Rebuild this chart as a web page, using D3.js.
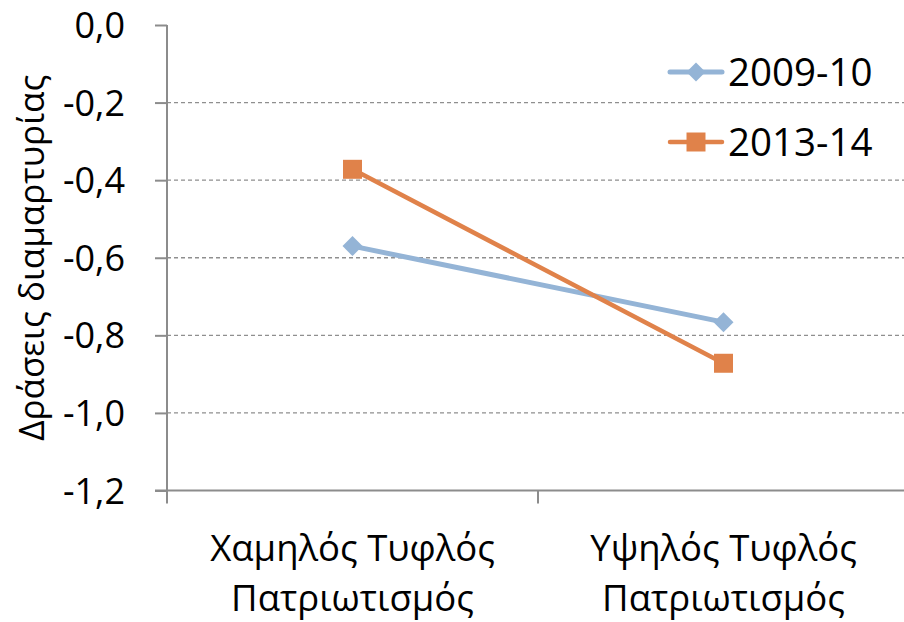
<!DOCTYPE html>
<html>
<head>
<meta charset="utf-8">
<script src="https://cdn.jsdelivr.net/npm/d3@7"></script>
<style>
  html, body { margin: 0; padding: 0; background: #fff; }
  svg { display: block; font-family: "Open Sans", "Noto Sans", sans-serif; }
</style>
</head>
<body>
<svg id="chart" width="904" height="622"></svg>
<script>
const categories = [["Χαμηλός Τυφλός", "Πατριωτισμός"], ["Υψηλός Τυφλός", "Πατριωτισμός"]];
const seriesNames = ["2009-10", "2013-14"];
const values2009 = [-0.57, -0.766];
const values2013 = [-0.372, -0.872];
const yTicks = [0, -0.2, -0.4, -0.6, -0.8, -1.0, -1.2];
const yTitle = "Δράσεις διαμαρτυρίας";
const colors = ["#94B4D6", "#E0824A"];
const markers = ["diamond", "square"];

const series = [
  { name: seriesNames[0], values: values2009, color: colors[0], marker: markers[0], width: 5 },
  { name: seriesNames[1], values: values2013, color: colors[1], marker: markers[1], width: 4.5 }
];

const svg = d3.select("#chart");
const pL = 167, pR = 909, pT = 25, pB = 490.5;

const x = d3.scaleBand().domain(d3.range(categories.length)).range([pL, pR]);
const y = d3.scaleLinear().domain([-1.2, 0]).range([pB, pT]);
const fmt = v => d3.format(".1f")(v).replace(".", ",").replace("−", "-");

// gridlines
svg.append("g").selectAll("line").data(yTicks.filter(v => v !== 0 && v !== -1.2)).join("line")
  .attr("x1", pL).attr("x2", pR)
  .attr("y1", d => y(d)).attr("y2", d => y(d))
  .attr("stroke", "#8f8f8f").attr("stroke-width", 1.3).attr("stroke-dasharray", "4,3");

// y axis
const yAxis = svg.append("g").attr("transform", `translate(${pL},0)`)
  .call(d3.axisLeft(y).tickValues(yTicks).tickSize(12).tickPadding(30).tickFormat(fmt));
yAxis.select(".domain").attr("stroke", "#8c8c8c").attr("stroke-width", 2).attr("d", `M0,${pT}V${pB}`);
yAxis.selectAll(".tick line").attr("stroke", "#8c8c8c").attr("stroke-width", 2);
yAxis.selectAll(".tick text").attr("font-size", 36).attr("fill", "#000")
  .attr("font-family", "'Open Sans', 'Noto Sans', sans-serif").attr("dy", "0.35em");

// x axis
const xAxisG = svg.append("g").attr("transform", `translate(0,${pB})`);
xAxisG.append("line").attr("x1", pL - 12).attr("x2", pR).attr("y1", 0).attr("y2", 0)
  .attr("stroke", "#8c8c8c").attr("stroke-width", 2);
const edges = x.domain().map(d => x(d)).concat([x(x.domain().length - 1) + x.bandwidth()]);
xAxisG.selectAll("line.tk").data(edges).join("line").attr("class", "tk")
  .attr("x1", d => d).attr("x2", d => d).attr("y1", 0).attr("y2", 13)
  .attr("stroke", "#8c8c8c").attr("stroke-width", 2);
const catText = xAxisG.selectAll("text.cat").data(categories).join("text").attr("class", "cat")
  .attr("x", (d, i) => x(i) + x.bandwidth() / 2)
  .attr("text-anchor", "middle").attr("font-size", 36.5).attr("fill", "#000");
catText.selectAll("tspan").data(d => d).join("tspan")
  .attr("x", function() { return d3.select(this.parentNode).attr("x"); })
  .attr("y", (d, i) => 70 + i * 50)
  .text(d => d);

// y title
svg.append("text").attr("transform", `translate(44,${(pT + pB) / 2}) rotate(-90)`)
  .attr("text-anchor", "middle").attr("font-size", 35).attr("fill", "#000").text(yTitle);

// marker drawing
function markerPath(type, cx, cy, r) {
  if (type === "diamond") return `M${cx},${cy - r}L${cx + r},${cy}L${cx},${cy + r}L${cx - r},${cy}Z`;
  return `M${cx - r},${cy - r}H${cx + r}V${cy + r}H${cx - r}Z`;
}

const line = d3.line().x((d, i) => x(i) + x.bandwidth() / 2).y(d => y(d));
series.forEach(s => {
  svg.append("path").datum(s.values).attr("d", line).attr("fill", "none")
    .attr("stroke", s.color).attr("stroke-width", s.width).attr("stroke-linecap", "round");
});
series.forEach(s => {
  svg.append("g").selectAll("path").data(s.values).join("path")
    .attr("d", (d, i) => markerPath(s.marker, x(i) + x.bandwidth() / 2, y(d), s.marker === "diamond" ? 10 : 9.5))
    .attr("fill", s.color);
});

// legend
const legend = svg.append("g");
series.forEach((s, i) => {
  const ly = 72 + i * 70;
  legend.append("line").attr("x1", 670).attr("x2", 722).attr("y1", ly).attr("y2", ly)
    .attr("stroke", s.color).attr("stroke-width", s.width).attr("stroke-linecap", "round");
  legend.append("path").attr("d", markerPath(s.marker, 696, ly, 9.5)).attr("fill", s.color);
  legend.append("text").attr("x", 728).attr("y", ly).attr("dy", "0.36em")
    .attr("font-size", 38.5).attr("fill", "#000").text(s.name);
});
</script>
</body>
</html>
